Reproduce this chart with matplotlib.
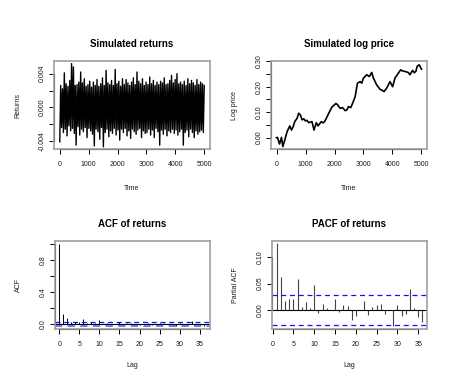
import matplotlib
matplotlib.use("Agg")
import matplotlib.pyplot as plt
import numpy as np

plt.rcParams['font.family'] = ['Liberation Sans', 'DejaVu Sans']

# returns, condensed to alternating extremes (units of 1e-3)
returns_k = [
    -4.1, 2.6, -2.4, 2.2, -3.0, 4.1, -2.6, 2.8, -3.4, 2.5,
    -2.2, 3.2, -2.8, 5.2, -2.5, 4.8, -3.1, 2.6, -4.5, 2.7,
    -2.3, 3.0, -3.3, 4.2, -2.6, 2.9, -2.9, 3.4, -2.4, 2.5,
    -3.6, 2.7, -2.5, 3.1, -2.8, 2.4, -3.2, 3.0, -4.6, 2.6,
    -2.6, 3.3, -2.9, 2.5, -3.8, 2.8, -2.4, 3.5, -4.7, 2.6,
    -3.0, 4.4, -2.6, 2.9, -3.5, 2.7, -2.8, 3.2, -3.1, 2.6,
    -2.5, 4.5, -3.3, 2.8, -2.7, 3.1, -3.9, 2.5, -2.6, 3.4,
    -3.0, 2.7, -2.5, 3.3, -3.4, 2.9, -2.8, 2.6, -3.7, 3.0,
    -2.6, 3.5, -2.9, 2.7, -3.2, 4.2, -2.7, 3.1, -2.5, 2.8,
    -3.6, 3.4, -2.8, 2.6, -3.1, 3.0, -3.0, 2.7, -2.6, 3.6,
    -3.3, 2.8, -2.7, 3.2, -3.6, 2.6, -2.5, 3.0, -2.9, 2.7,
    -4.5, 3.1, -2.7, 2.9, -3.2, 3.5, -2.6, 2.7, -3.4, 2.8,
    -2.8, 3.2, -3.0, 3.8, -2.6, 2.9, -3.1, 3.3, -2.7, 4.0,
    -3.3, 2.8, -2.9, 3.0, -2.6, 2.7, -4.5, 3.1, -3.0, 2.6,
    -2.7, 3.4, -3.5, 2.8, -2.6, 3.2, -3.0, 2.9, -3.6, 2.6,
    -2.8, 3.3, -3.2, 2.7, -2.9, 3.0, -2.7, 2.8, -3.0, 2.6,
]

price_t = [0, 34, 103, 172, 217, 286, 366, 458, 515, 570, 629, 709, 767, 824,
           881, 940, 995, 1050, 1110, 1224, 1293, 1373, 1430, 1490, 1545, 1600,
           1659, 1739, 1819, 1911, 2048, 2100, 2197, 2280, 2368, 2426, 2483,
           2560, 2632, 2712, 2792, 2883, 2940, 2998, 3112, 3200, 3284, 3341,
           3455, 3570, 3640, 3707, 3799, 3913, 4005, 4085, 4165, 4279, 4350,
           4428, 4542, 4600, 4691, 4750, 4806, 4851, 4920, 5000]
price_v = [0.0, 0.001, -0.025, 0.001, -0.035, -0.009, 0.024, 0.046, 0.030,
           0.042, 0.063, 0.076, 0.096, 0.089, 0.070, 0.074, 0.066, 0.068,
           0.059, 0.063, 0.030, 0.059, 0.046, 0.055, 0.063, 0.058, 0.063,
           0.081, 0.100, 0.120, 0.134, 0.130, 0.115, 0.118, 0.106, 0.109,
           0.122, 0.118, 0.137, 0.161, 0.214, 0.220, 0.214, 0.234, 0.247,
           0.240, 0.256, 0.234, 0.207, 0.190, 0.186, 0.181, 0.194, 0.220,
           0.200, 0.234, 0.247, 0.266, 0.262, 0.260, 0.256, 0.247, 0.264,
           0.255, 0.260, 0.280, 0.286, 0.269]

acf_vals = [1.0, 0.127, 0.08, 0.03, 0.03, 0.03, 0.06, 0.015, 0.025, 0.01,
            0.05, 0.005, 0.015, 0.005, 0.002, 0.02, 0.0, 0.01, 0.01, -0.015,
            -0.01, 0.0, 0.015, -0.01, 0.005, 0.01, 0.012, -0.005, 0.0, -0.03,
            0.008, -0.01, -0.008, 0.035, 0.005, -0.012, -0.02]

pacf_vals = [0.127, 0.063, 0.018, 0.021, 0.021, 0.058, 0.005, 0.015, 0.003,
             0.048, -0.006, 0.011, 0.004, 0.001, 0.021, -0.003, 0.010, 0.008,
             -0.018, -0.011, 0.0, 0.018, -0.010, 0.006, 0.010, 0.012, -0.007,
             0.0, -0.031, 0.010, -0.011, -0.007, 0.040, 0.003, -0.014, -0.022]

n_obs = 5000
ci = 1.96 / np.sqrt(n_obs)

W, H = 477, 378
fig = plt.figure(figsize=(W / 100, H / 100), dpi=100)

def box(px_left, px_top, px_w, px_h):
    return [px_left / W, 1 - (px_top + px_h) / H, px_w / W, px_h / H]

ax1 = fig.add_axes(box(54, 61, 156, 88))
ax2 = fig.add_axes(box(271, 61, 156, 88))
ax3 = fig.add_axes(box(55, 241, 155, 88))
ax4 = fig.add_axes(box(272, 241, 155, 88))

TXT = '#1a1a1a'
FS = 5
BLUE = '#1010ff'

def r_style(ax, title, xlab, ylab, xticks, yticks, ylabels, xlab_y):
    for s in ax.spines.values():
        s.set_color('#a0a0a0')
        s.set_linewidth(1.2)
    ax.set_title(title, fontsize=7, fontweight='bold', pad=10)
    ax.set_xticks(xticks)
    ax.set_xticklabels([str(t) for t in xticks])
    ax.set_yticks(yticks)
    ax.set_yticklabels(ylabels, rotation=90, va='center')
    ax.tick_params(length=3.5, width=0.7, color='black', labelsize=FS,
                   labelcolor=TXT)
    ax.tick_params(axis='x', pad=5)
    ax.tick_params(axis='y', pad=2.5)
    ax.set_xlabel(xlab, fontsize=FS, color=TXT)
    ax.set_ylabel(ylab, fontsize=FS, color=TXT)
    ax.xaxis.set_label_coords(0.5, xlab_y)
    ax.yaxis.set_label_coords(-33 / 156, 0.5)
    # R-style axis lines spanning only the tick range
    ax.plot([xticks[0], xticks[-1]], [0, 0], color='black', lw=0.8,
            transform=ax.get_xaxis_transform(), clip_on=False)
    ax.plot([0, 0], [yticks[0], yticks[-1]], color='black', lw=0.8,
            transform=ax.get_yaxis_transform(), clip_on=False)

# returns
ret = np.array(returns_k) * 1e-3
t_ret = np.linspace(1, n_obs, len(ret))
ax1.plot(t_ret, ret, color='black', lw=1.0)
ax1.set_xlim(-199, 5200)
ax1.set_ylim(-0.00496, 0.00551)
r_style(ax1, 'Simulated returns', 'Time', 'Returns',
        [0, 1000, 2000, 3000, 4000, 5000],
        [-0.004, -0.002, 0.0, 0.002, 0.004],
        ['-0.004', '', '0.000', '', '0.004'], -0.41)

# log price
ax2.plot(price_t, price_v, color='black', lw=1.2)
ax2.set_xlim(-190, 5190)
ax2.set_ylim(-0.0445, 0.301)
r_style(ax2, 'Simulated log price', 'Time', 'Log price',
        [0, 1000, 2000, 3000, 4000, 5000],
        [0.0, 0.05, 0.10, 0.15, 0.20, 0.25, 0.30],
        ['0.00', '', '0.10', '', '0.20', '', '0.30'], -0.41)

# ACF
lags_acf = np.arange(len(acf_vals))
ax3.vlines(lags_acf, 0, acf_vals, color='black', lw=0.7)
ax3.axhline(0, color='black', lw=0.8)
ax3.axhline(ci, color=BLUE, lw=0.9, ls=(0, (4, 3)))
ax3.axhline(-ci, color='#6a6aee', lw=1.3, ls=(0, (4, 3)))
ax3.set_xlim(-1.1, 37.6)
ax3.set_ylim(-0.0635, 1.041)
r_style(ax3, 'ACF of returns', 'Lag', 'ACF',
        [0, 5, 10, 15, 20, 25, 30, 35],
        [0.0, 0.2, 0.4, 0.6, 0.8, 1.0],
        ['0.0', '', '0.4', '', '0.8', ''], -0.38)

# PACF
lags_pacf = np.arange(1, len(pacf_vals) + 1)
ax4.vlines(lags_pacf, 0, pacf_vals, color='#444444', lw=0.8)
ax4.axhline(0, color='black', lw=0.8)
ax4.axhline(ci, color=BLUE, lw=0.9, ls=(0, (4, 3)))
ax4.axhline(-ci, color=BLUE, lw=0.9, ls=(0, (4, 3)))
ax4.set_xlim(-0.15, 37.1)
ax4.set_ylim(-0.036, 0.131)
r_style(ax4, 'PACF of returns', 'Lag', 'Partial ACF',
        [0, 5, 10, 15, 20, 25, 30, 35],
        [0.0, 0.05, 0.10],
        ['0.00', '0.05', '0.10'], -0.38)

fig.savefig('out.png', dpi=100)
